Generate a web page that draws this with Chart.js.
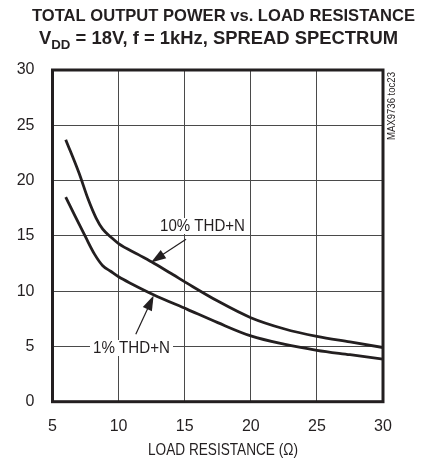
<!DOCTYPE html>
<html>
<head>
<meta charset="utf-8">
<script src="https://cdn.jsdelivr.net/npm/chart.js@4.4.1/dist/chart.umd.min.js"></script>
<style>
  html, body { margin: 0; padding: 0; background: #fff; }
  #wrap { width: 438px; height: 463px; position: relative; }
</style>
</head>
<body>
<div id="wrap"><canvas id="c" width="438" height="463"></canvas></div>
<script>
/* Total output power vs. load resistance (MAX9736 toc23) */

const loadOhms10 = [6, 7, 7.7, 8.3, 8.8, 9.5, 10, 11.5, 12.7, 14.1, 15.2, 17.5, 20, 22.5, 25, 27.5, 30];
const power10    = [23.7, 20.7, 18.3, 16.6, 15.6, 14.8, 14.3, 13.3, 12.5, 11.5, 10.7, 9.1, 7.6, 6.6, 5.9, 5.4, 4.9];

const loadOhms1  = [6, 6.7, 7.5, 8.2, 8.8, 9.4, 10, 11, 12.6, 15.2, 17.5, 20, 22.5, 25, 27.5, 30];
const power1     = [18.5, 16.8, 14.9, 13.3, 12.3, 11.8, 11.3, 10.65, 9.7, 8.35, 7.15, 5.95, 5.2, 4.65, 4.25, 3.85];

const xTicks = [5, 10, 15, 20, 25, 30];
const yTicks = [0, 5, 10, 15, 20, 25, 30];

const INK = '#231f20';
const FONT = "'Liberation Sans Narrow', 'Arial Narrow', 'Liberation Sans', Arial, sans-serif";

function pts(xs, ys){ return xs.map((x, i) => ({ x, y: ys[i] })); }

// draw text squeezed/stretched horizontally to a target width (no narrow font installed)
function fitText(ctx, text, cx, cy, width){
  const k = width / ctx.measureText(text).width;
  ctx.save();
  ctx.translate(cx, cy);
  ctx.scale(k, 1);
  ctx.textAlign = 'center';
  ctx.fillText(text, 0, 0);
  ctx.restore();
}

// label on white box, with an arrow pointing to a curve
function callout(ctx, xs, ys, text, tx, ty, width, from, to){
  ctx.save();
  ctx.font = '16px ' + FONT;
  ctx.textBaseline = 'middle';
  ctx.fillStyle = '#fff';
  ctx.fillRect(tx - width/2 - 3, ty - 8, width + 6, 16);
  ctx.fillStyle = INK;
  fitText(ctx, text, tx, ty + 1, width);
  const x0 = xs.getPixelForValue(from[0]), y0 = ys.getPixelForValue(from[1]);
  const x1 = xs.getPixelForValue(to[0]),   y1 = ys.getPixelForValue(to[1]);
  const a = Math.atan2(y1 - y0, x1 - x0);
  ctx.strokeStyle = INK; ctx.lineWidth = 1.2;
  ctx.beginPath(); ctx.moveTo(x0, y0); ctx.lineTo(x1 - 10*Math.cos(a), y1 - 10*Math.sin(a)); ctx.stroke();
  ctx.beginPath();
  ctx.moveTo(x1, y1);
  ctx.lineTo(x1 - 15*Math.cos(a) + 5*Math.sin(a), y1 - 15*Math.sin(a) - 5*Math.cos(a));
  ctx.lineTo(x1 - 15*Math.cos(a) - 5*Math.sin(a), y1 - 15*Math.sin(a) + 5*Math.cos(a));
  ctx.closePath(); ctx.fill();
  ctx.restore();
}

const decor = {
  id: 'decor',
  afterDatasetsDraw(chart){
    const { ctx, chartArea: a, scales: { x, y } } = chart;
    callout(ctx, x, y, '10% THD+N', 202.5, 226, 85, [15.1, 14.7], [12.45, 12.6]);
    callout(ctx, x, y, '1% THD+N', 131.5, 348, 77, [11.3, 6.1], [12.65, 9.6]);

    // frame
    ctx.save();
    ctx.strokeStyle = INK; ctx.lineWidth = 3;
    ctx.strokeRect(a.left, a.top, a.right - a.left, a.bottom - a.top);

    // titles
    ctx.fillStyle = INK;
    ctx.textBaseline = 'middle';
    ctx.font = 'bold 17px ' + FONT;
    fitText(ctx, 'TOTAL OUTPUT POWER vs. LOAD RESISTANCE', 223.5, 16, 383);

    // second line: V with DD subscript
    const p1 = 'V', sub = 'DD', p2 = ' = 18V, f = 1kHz, SPREAD SPECTRUM';
    ctx.font = 'bold 18px ' + FONT;
    const w1 = ctx.measureText(p1).width, w3 = ctx.measureText(p2).width;
    ctx.font = 'bold 13px ' + FONT;
    const w2 = ctx.measureText(sub).width;
    const k = 359 / (w1 + w2 + w3);
    ctx.save();
    ctx.translate(218.5 - 359 / 2, 39);
    ctx.scale(k, 1);
    ctx.textAlign = 'left';
    ctx.font = 'bold 18px ' + FONT;
    ctx.fillText(p1, 0, 0);
    ctx.font = 'bold 13px ' + FONT;
    ctx.fillText(sub, w1, 6);
    ctx.font = 'bold 18px ' + FONT;
    ctx.fillText(p2, w1 + w2, 0);
    ctx.restore();

    // axis title
    ctx.font = '16px ' + FONT;
    fitText(ctx, 'LOAD RESISTANCE (\u03A9)', 223, 451, 150);

    // figure id
    ctx.translate(392, 106);
    ctx.rotate(-Math.PI / 2);
    ctx.font = '10px ' + FONT;
    fitText(ctx, 'MAX9736 toc23', 0, 0, 68);
    ctx.restore();
  }
};

new Chart(document.getElementById('c'), {
  type: 'line',
  data: {
    datasets: [
      { label: '10% THD+N', data: pts(loadOhms10, power10) },
      { label: '1% THD+N',  data: pts(loadOhms1,  power1) },
    ].map(d => ({ borderColor: INK, borderWidth: 2.8, pointRadius: 0, fill: false,
                  cubicInterpolationMode: 'monotone', ...d }))
  },
  options: {
    responsive: false, animation: false,
    devicePixelRatio: 1,
    layout: { padding: { top: 70, right: 55, left: 0, bottom: 0 } },
    plugins: { legend: { display: false }, tooltip: { enabled: false }, title: { display: false } },
    scales: {
      x: {
        type: 'linear', min: 5, max: 30,
        afterBuildTicks: s => { s.ticks = xTicks.map(v => ({ value: v })); },
        afterFit: s => { s.height = 61.3; },
        grid: { color: '#4a4a4a', lineWidth: 1, drawTicks: false },
        border: { display: false },
        ticks: { color: INK, padding: 15, font: { family: FONT, size: 16 } }
      },
      y: {
        min: 0, max: 30,
        afterBuildTicks: s => { s.ticks = yTicks.map(v => ({ value: v })); },
        afterFit: s => { s.width = 52.5; },
        grid: { color: '#4a4a4a', lineWidth: 1, drawTicks: false },
        border: { display: false },
        ticks: { color: INK, padding: 18, font: { family: FONT, size: 16 } }
      }
    }
  },
  plugins: [decor]
});
</script>
</body>
</html>
